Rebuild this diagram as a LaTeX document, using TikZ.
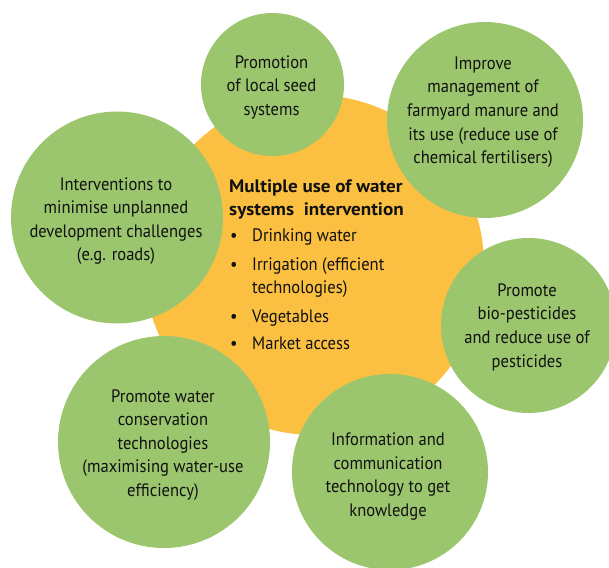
\documentclass[tikz,border=0pt]{standalone}
\usepackage{fontspec}
\setmainfont[FakeStretch=0.92]{PT Sans}
\newfontfamily\titlefont[FakeStretch=1.06]{PT Sans}
\definecolor{leaf}{HTML}{9BC66E}
\definecolor{sun}{HTML}{FBC041}
\definecolor{ink}{HTML}{111111}
\begin{document}
\begin{tikzpicture}[x=1pt,y=-1pt,
  disc/.style={circle,inner sep=0pt,draw=none,fill=leaf},
  txt/.style={inner sep=0pt,align=center,text=ink,font=\fontsize{18}{23.6}\selectfont},
  blk/.style={inner sep=0pt,align=left,text=ink,font=\fontsize{18}{23.6}\selectfont}]
\useasboundingbox (0,0) rectangle (609,567);
\begin{scope}
\clip (0,0) rectangle (609,567);
\node[disc,fill=sun,minimum size=340pt] (hub) at (314,265) {};
\node[disc,minimum size=143pt] (seed) at (272.5,84.5) {};
\node[disc,minimum size=196pt] (manure) at (485,120) {};
\node[disc,minimum size=212pt] (roads) at (117,217.5) {};
\node[disc,minimum size=175pt] (pest) at (528.5,325.5) {};
\node[disc,minimum size=196pt] (ict) at (390,472) {};
\node[disc,minimum size=212pt] (cons) at (164,442) {};
\end{scope}
\node[txt] (seedt) at (271.5,87) {\strut Promotion\\of local seed\\systems\strut};
\node[txt] (manuret) at (483,111.7) {\strut Improve\\management of\\farmyard manure and\\its use (reduce use of\\chemical fertilisers)\strut};
\node[txt] (roadst) at (116,220.8) {\strut Interventions to\\minimise unplanned\\development challenges\\(e.g. roads)\strut};
\node[txt] (pestt) at (527,327) {\strut Promote\\bio-pesticides\\and reduce use of\\pesticides\strut};
\node[txt] (consT) at (163,444.5) {\strut Promote water\\conservation\\technologies\\(maximising water-use\\efficiency)\strut};
\node[txt] (ictt) at (388,476.3) {\strut Information and\\communication\\technology to get\\knowledge\strut};
\node[blk,anchor=north west] (hubt) at (229,175.5) {\strut{\titlefont\bfseries Multiple use of water}\\
{\titlefont\bfseries systems\ \ intervention}\\[2pt]
\makebox[23pt][l]{\hspace{1pt}•}Drinking water\\[5pt]
\makebox[23pt][l]{\hspace{1pt}•}Irrigation (efficient\\
\makebox[23pt][l]{}technologies)\\[5pt]
\makebox[23pt][l]{\hspace{1pt}•}Vegetables\\[4pt]
\makebox[23pt][l]{\hspace{1pt}•}Market access};
\end{tikzpicture}
\end{document}
